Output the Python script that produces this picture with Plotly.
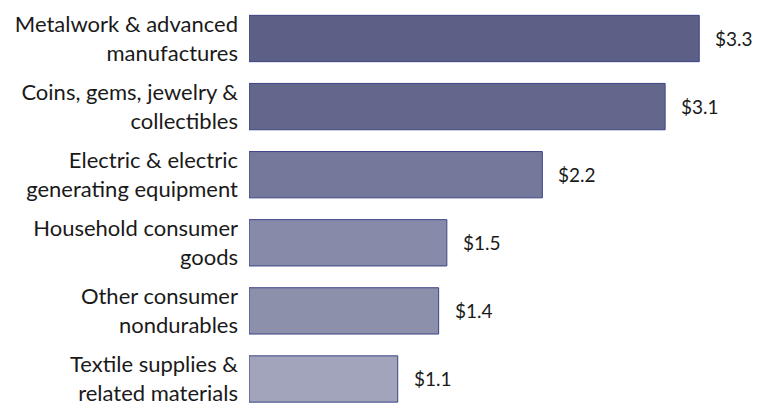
import plotly.graph_objects as go

categories = [
    "Metalwork & advanced<br>manufactures",
    "Coins, gems, jewelry &<br>collectibles",
    "Electric & electric<br>generating equipment",
    "Household consumer<br>goods",
    "Other consumer<br>nondurables",
    "Textile supplies &<br>related materials",
]
values = [3.3, 3.05, 2.15, 1.45, 1.39, 1.09]
value_labels = ["$3.3", "$3.1", "$2.2", "$1.5", "$1.4", "$1.1"]
bar_colors = ["#5c6086", "#63678b", "#74789a", "#878aa8", "#8d90ab", "#a2a4bc"]

fig = go.Figure()
fig.add_trace(go.Bar(
    x=values,
    y=categories,
    orientation="h",
    width=0.68,
    marker=dict(color=bar_colors, line=dict(color="#3d4385", width=1)),
    hoverinfo="skip",
))

for v, c, t in zip(values, categories, value_labels):
    fig.add_annotation(x=v, y=c, text=t, showarrow=False, xanchor="left",
                       xshift=14, font=dict(family="Lato", size=19, color="#1a1a1a"))

# page body has an 8px default margin, so the figure is sized to fit the window
fig.update_layout(
    width=754, height=397,
    margin=dict(l=241, r=0, t=0, b=0, autoexpand=False),
    plot_bgcolor="white", paper_bgcolor="white",
    showlegend=False,
    font=dict(family="Lato", size=22, color="#1a1a1a"),
)
fig.update_xaxes(range=[0, 3.76], visible=False, showgrid=False, zeroline=False,
                 automargin=False)
fig.update_yaxes(range=[5.382, -0.448], showgrid=False, zeroline=False,
                 showline=False, ticks="", ticklabelstandoff=10, automargin=False,
                 tickfont=dict(family="Lato", size=22, color="#1a1a1a"))

fig.write_html("out.html")
